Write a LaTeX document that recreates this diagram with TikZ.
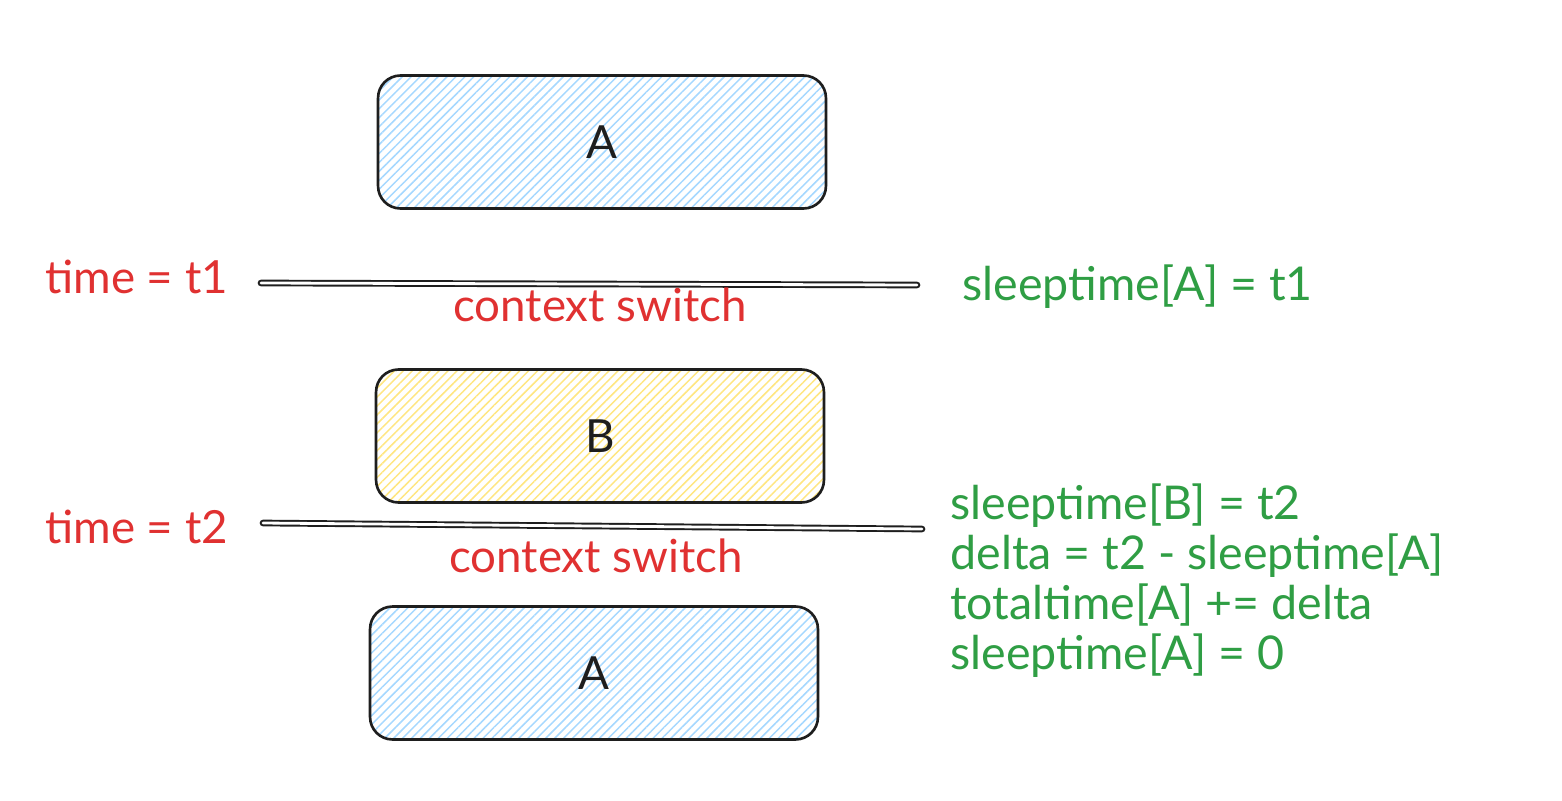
\documentclass[tikz,border=0pt]{standalone}
\usepackage{fontspec}
\setmainfont{Lato}
\usetikzlibrary{patterns.meta, positioning}

\definecolor{ink}{HTML}{1E1E1E}
\definecolor{redink}{HTML}{E03131}
\definecolor{greenink}{HTML}{2F9E44}
\definecolor{skyhatch}{HTML}{A5D8FF}
\definecolor{sunhatch}{HTML}{FFE680}

\begin{document}
\begin{tikzpicture}[x=0.02cm, y=-0.02cm, line cap=round,
      proc/.style={draw=ink, line width=1.5pt, rounded corners=0.45cm,
                   minimum width=8.96cm, minimum height=2.66cm,
                   font=\fontsize{26}{30}\selectfont, text=ink},
      procblue/.style={proc, pattern={Lines[angle=45, distance=3.6pt, line width=0.85pt]},
                       pattern color=skyhatch},
      procyellow/.style={proc, pattern={Lines[angle=45, distance=3.6pt, line width=0.85pt]},
                         pattern color=sunhatch},
      switchline/.style={draw=ink, line width=1.1pt, double distance=1.6pt},
      redlbl/.style={inner sep=0pt, text=redink, font=\fontsize{26}{30}\selectfont},
      greenlbl/.style={inner sep=0pt, text=greenink, font=\fontsize{26.5}{28.45}\selectfont}]

    % canvas (pixel units of the sketch)
    \path[use as bounding box, fill=white] (0,0) rectangle (1562,801);

    % processes
    \node[procblue]   (procA)  at (602,142) {A};
    \node[procyellow] (procB)  at (600,436) {B};
    \node[procblue]   (procA2) at (594,673) {A};

    % first context switch
    \coordinate (sw1l) at (261,283);
    \coordinate (sw1r) at (917,285);
    \draw[switchline] (sw1l) -- (sw1r);
    \node[redlbl, anchor=west] (time1) at (45,277) {time = t1};
    \node[redlbl] (ctx1) at (600,305) {context switch};
    \node[greenlbl, anchor=west] (sleepA) at (962,287) {sleeptime[A] = t1};

    % second context switch
    \coordinate (sw2l) at (263,523);
    \coordinate (sw2r) at (922,529);
    \draw[switchline] (sw2l) -- (sw2r);
    \node[redlbl, anchor=west] (time2) at (45,527) {time = t2};
    \node[redlbl] (ctx2) at (596,556) {context switch};
    \node[greenlbl, anchor=north west, align=left] (update) at (950,483)
      {sleeptime[B] = t2\\
       delta = t2 - sleeptime[A]\\
       totaltime[A] += delta\\
       sleeptime[A] = 0};

\end{tikzpicture}
\end{document}
